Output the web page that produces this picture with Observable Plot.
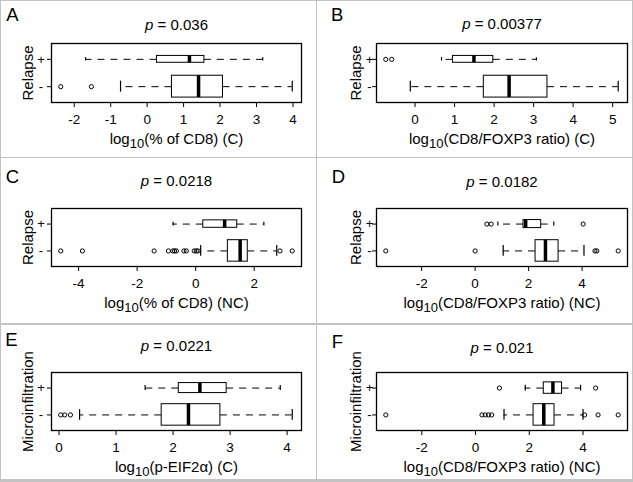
<!DOCTYPE html>
<html><head><meta charset="utf-8">
<script src="https://cdn.jsdelivr.net/npm/d3@7"></script>
<script src="https://cdn.jsdelivr.net/npm/@observablehq/plot@0.6"></script>
<style>
body{margin:0;background:#fff;}
#wrap{position:relative;width:633px;height:482px;overflow:hidden;background:#fff;font-family:"Liberation Sans",Arial,sans-serif;}
#wrap svg{position:absolute;overflow:visible;}
.ln{position:absolute;background:#c2c2c2;}
</style></head><body><div id="wrap"></div>
<script>
// ---- data ----
const letters = ["A","B","C","D","E","F"];
const pValues = ["0.036","0.00377","0.0218","0.0182","0.0221","0.021"];
const xTitles = ["(% of CD8) (C)","(CD8/FOXP3 ratio) (C)","(% of CD8) (NC)","(CD8/FOXP3 ratio) (NC)","(p-EIF2α) (C)","(CD8/FOXP3 ratio) (NC)"];
const yTitles = ["Relapse","Relapse","Relapse","Relapse","Microinfiltration","Microinfiltration"];
const groupLabels = ["-","+"];

const xTicksA = [-2,-1,0,1,2,3,4];
const xTicksB = [0,1,2,3,4,5];
const xTicksC = [-4,-2,0,2];
const xTicksD = [-2,0,2,4];
const xTicksE = [0,1,2,3,4];
const xTicksF = [-2,0,2,4];

const boxA = [
  {g:"+", lo:-1.69, q1:0.27, med:1.16, q3:1.57, hi:3.17, n:9},
  {g:"-", lo:-0.73, q1:0.68, med:1.41, q3:2.08, hi:3.98, n:92}
];
const outA = [{g:"-", x:-2.37},{g:"-", x:-1.53}];

const boxB = [
  {g:"+", lo:0.67, q1:0.96, med:1.49, q3:1.98, hi:3.07, n:9},
  {g:"-", lo:-0.12, q1:1.74, med:2.38, q3:3.35, hi:5.14, n:92}
];
const outB = [{g:"+", x:-0.74},{g:"+", x:-0.59}];

const boxC = [
  {g:"+", lo:-0.77, q1:0.26, med:0.99, q3:1.42, hi:2.33, n:12},
  {g:"-", lo:0.17, q1:1.10, med:1.52, q3:1.78, hi:2.77, n:100}
];
const outC = [-4.61,-3.87,-1.42,-0.93,-0.78,-0.72,-0.66,-0.40,-0.32,-0.05,0.02,0.08,2.88,3.30].map(x => ({g:"-", x}));

const boxD = [
  {g:"+", lo:0.85, q1:1.81, med:1.89, q3:2.47, hi:2.94, n:14},
  {g:"-", lo:1.05, q1:2.26, med:2.63, q3:3.12, hi:4.07, n:100}
];
const outD = [
  {g:"+", x:0.44},{g:"+", x:0.60},{g:"+", x:4.04},
  {g:"-", x:-3.34},{g:"-", x:0.0},{g:"-", x:4.48},{g:"-", x:4.55},{g:"-", x:5.35}
];

const boxE = [
  {g:"+", lo:1.51, q1:2.10, med:2.47, q3:2.94, hi:3.88, n:18},
  {g:"-", lo:0.36, q1:1.80, med:2.27, q3:2.83, hi:4.09, n:83}
];
const outE = [{g:"-", x:0.03},{g:"-", x:0.10},{g:"-", x:0.20}];

const boxF = [
  {g:"+", lo:1.85, q1:2.54, med:2.88, q3:3.22, hi:3.91, n:25},
  {g:"-", lo:1.06, q1:2.16, med:2.54, q3:2.94, hi:4.00, n:88}
];
const outF = [
  {g:"+", x:0.89},{g:"+", x:4.47},
  {g:"-", x:-3.34},{g:"-", x:0.24},{g:"-", x:0.36},{g:"-", x:0.48},{g:"-", x:0.60},
  {g:"-", x:4.06},{g:"-", x:4.56},{g:"-", x:5.31}
];

// ---- layout ----
const layouts = [
  {left:0,   top:0,   w:316, h:158, ml:51, mr:15, mt:43, mb:56, ylab:23.4, ytp:6.5, ldx:-45.2, ldy:-22.3, tdy:-13.4},
  {left:316, top:0,   w:317, h:158, ml:60, mr:6,  mt:43, mb:56, ylab:20.7, ytp:3,   ldx:-45.4, ldy:-23,   tdy:-14.4},
  {left:0,   top:158, w:316, h:166, ml:51, mr:15, mt:50, mb:58, ylab:23.4, ytp:6.5, ldx:-45.7, ldy:-25.6, tdy:-23},
  {left:316, top:158, w:317, h:166, ml:60, mr:6,  mt:50, mb:58, ylab:20.7, ytp:3,   ldx:-44.7, ldy:-25.6, tdy:-21.6},
  {left:0,   top:324, w:316, h:158, ml:51, mr:15, mt:48, mb:52, ylab:23.4, ytp:6.5, ldx:-46.2, ldy:-26.7, tdy:-21.7},
  {left:316, top:324, w:317, h:158, ml:60, mr:6,  mt:48, mb:52, ylab:20.7, ytp:3,   ldx:-44.8, ldy:-25,   tdy:-20}
];
const panels = [
  [boxA, outA, xTicksA],[boxB, outB, xTicksB],[boxC, outC, xTicksC],
  [boxD, outD, xTicksD],[boxE, outE, xTicksE],[boxF, outF, xTicksF]
];

const wrap = document.getElementById("wrap");
const NS = "http://www.w3.org/2000/svg";
const FONT = '"Liberation Sans", Arial, sans-serif';

function findText(svg, s) {
  return Array.from(svg.querySelectorAll("text")).find(t => t.textContent === s);
}

function panel(i) {
  const [box, out, ticks] = panels[i];
  const L = layouts[i];
  const nmax = d3.max(box, d => d.n);
  const pos = g => groupLabels.indexOf(g) + 1;
  const hw = d => 0.4 * Math.sqrt(d.n / nmax);
  const all = box.flatMap(d => [d.lo, d.hi]).concat(out.map(d => d.x));
  const [mn, mx] = d3.extent(all);
  const pad = (mx - mn) * 0.04;
  const svg = Plot.plot({
    width: L.w, height: L.h,
    marginLeft: L.ml, marginRight: L.mr, marginTop: L.mt, marginBottom: L.mb,
    style: {fontFamily: FONT, fontSize: "13px", color: "black", background: "transparent", overflow: "visible"},
    x: {domain: [mn - pad, mx + pad]},
    y: {domain: [0.42, 2.58]},
    marks: [
      Plot.ruleY(box, {y: d => pos(d.g), x1: "q1", x2: "lo", stroke: "black", strokeWidth: 1, strokeDasharray: "7,6"}),
      Plot.ruleY(box, {y: d => pos(d.g), x1: "q3", x2: "hi", stroke: "black", strokeWidth: 1, strokeDasharray: "7,6"}),
      Plot.ruleX(box, {x: "lo", y1: d => pos(d.g) - hw(d) / 2, y2: d => pos(d.g) + hw(d) / 2, stroke: "black", strokeWidth: 1.2}),
      Plot.ruleX(box, {x: "hi", y1: d => pos(d.g) - hw(d) / 2, y2: d => pos(d.g) + hw(d) / 2, stroke: "black", strokeWidth: 1.2}),
      Plot.rect(box, {x1: "q1", x2: "q3", y1: d => pos(d.g) - hw(d), y2: d => pos(d.g) + hw(d), fill: "white", stroke: "black", strokeWidth: 1}),
      Plot.ruleX(box, {x: "med", y1: d => pos(d.g) - hw(d), y2: d => pos(d.g) + hw(d), stroke: "black", strokeWidth: 3.5}),
      Plot.dot(out, {x: "x", y: d => pos(d.g), r: 2.1, stroke: "black", fill: "none", strokeWidth: 1}),
      Plot.frame({stroke: "black", strokeWidth: 1.3}),
      Plot.axisX({ticks, tickFormat: d => String(d), tickSize: 5, tickPadding: 7, fontSize: 13.5, label: null, stroke: "black"}),
      Plot.axisY({ticks: [1, 2], tickFormat: d => groupLabels[d - 1], tickSize: 4, tickPadding: L.ytp, textAnchor: "middle", fontSize: 13, label: null, stroke: "black"}),
      Plot.text([letters[i]], {frameAnchor: "top-left", text: d => d, dx: L.ldx, dy: L.ldy, textAnchor: "start", lineAnchor: "bottom", fontSize: 18.5, fill: "black"}),
      Plot.text([pValues[i]], {frameAnchor: "top", text: d => d, dy: L.tdy, textAnchor: "middle", lineAnchor: "bottom", fontSize: 15, fill: "black"}),
      Plot.text([xTitles[i]], {frameAnchor: "bottom", text: d => d, dy: 41, textAnchor: "middle", lineAnchor: "bottom", fontSize: 15, fill: "black"}),
      Plot.text([yTitles[i]], {frameAnchor: "left", text: d => d, dx: -L.ylab, rotate: -90, textAnchor: "middle", lineAnchor: "middle", fontSize: 15, fill: "black"})
    ]
  });
  svg.style.left = L.left + "px";
  svg.style.top = L.top + "px";

  // rich text: italic p in title
  const t = findText(svg, pValues[i]);
  if (t) {
    t.textContent = "";
    const it = document.createElementNS(NS, "tspan");
    it.setAttribute("font-style", "italic");
    it.textContent = "p";
    t.appendChild(it);
    t.appendChild(document.createTextNode(" = " + pValues[i]));
  }
  // subscript 10 in x title
  const x = findText(svg, xTitles[i]);
  if (x) {
    x.textContent = "log";
    const sub = document.createElementNS(NS, "tspan");
    sub.setAttribute("dy", "4");
    sub.setAttribute("font-size", "13");
    sub.textContent = "10";
    const rest = document.createElementNS(NS, "tspan");
    rest.setAttribute("dy", "-4");
    rest.textContent = xTitles[i];
    x.appendChild(sub);
    x.appendChild(rest);
  }
  wrap.appendChild(svg);
}
for (let i = 0; i < 6; i++) panel(i);

// panel borders
function line(l, t, w, h) {
  const d = document.createElement("div");
  d.className = "ln";
  Object.assign(d.style, {left: l + "px", top: t + "px", width: w + "px", height: h + "px"});
  wrap.appendChild(d);
}
line(0, 0, 633, 1.3);
line(0, 0, 1.3, 482);
line(631.7, 0, 1.3, 482);
line(0, 479, 633, 3);
line(316, 0, 1.4, 482);
line(0, 157, 633, 1.4);
line(0, 323.3, 633, 1.4);
</script></body></html>
